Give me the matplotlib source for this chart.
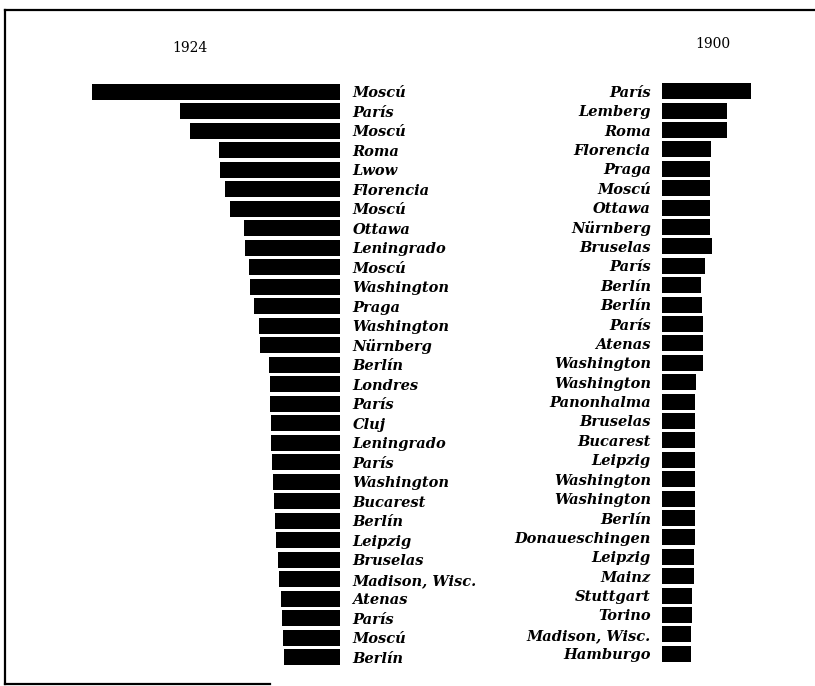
import matplotlib

matplotlib.use("Agg")
import matplotlib.pyplot as plt
from matplotlib.lines import Line2D

# 1924 – Städte und Balkenlängen (geschätzt aus dem Bild)
cities_1924 = [
    "Moscú", "París", "Moscú", "Roma", "Lwow", "Florencia", "Moscú", "Ottawa",
    "Leningrado", "Moscú", "Washington", "Praga", "Washington", "Nürnberg",
    "Berlín", "Londres", "París", "Cluj", "Leningrado", "París", "Washington",
    "Bucarest", "Berlín", "Leipzig", "Bruselas", "Madison, Wisc.", "Atenas",
    "París", "Moscú", "Berlín",
]
values_1924 = [
    248, 160, 150, 121, 120, 115, 110, 96, 95, 91, 90, 86, 81, 80, 71, 70.5,
    70, 69.5, 69, 68, 67.5, 66.5, 65.5, 64, 62.5, 61.5, 59.5, 58.5, 57.5, 56,
]

# 1900
cities_1900 = [
    "París", "Lemberg", "Roma", "Florencia", "Praga", "Moscú", "Ottawa",
    "Nürnberg", "Bruselas", "París", "Berlín", "Berlín", "París", "Atenas",
    "Washington", "Washington", "Panonhalma", "Bruselas", "Bucarest", "Leipzig",
    "Washington", "Washington", "Berlín", "Donaueschingen", "Leipzig", "Mainz",
    "Stuttgart", "Torino", "Madison, Wisc.", "Hamburgo",
]
values_1900 = [
    89, 65, 65, 49, 48, 48, 48, 48, 49.5, 43, 39, 40, 40.5, 40.5, 40.5, 33.5,
    32.5, 32.5, 32.5, 33, 32.5, 32.5, 32.5, 32.5, 32, 31.5, 30, 29.5, 29, 28.5,
]

W, H = 815, 686
LABEL_FONT = dict(family="DejaVu Serif", style="italic", weight="bold", size=10.5)

fig = plt.figure(figsize=(W / 100, H / 100), dpi=100)
fig.patch.set_facecolor("white")

# linkes Panel: Balken wachsen nach links, Beschriftung rechts
ax_l = fig.add_axes([60 / W, (H - 667) / H, 280 / W, 585 / H])
ax_l.barh(range(len(values_1924)), values_1924, height=0.82, color="black")
ax_l.set_xlim(280, 0)
ax_l.set_ylim(len(values_1924) - 0.5, -0.5)
ax_l.yaxis.tick_right()
ax_l.set_yticks(range(len(cities_1924)))
ax_l.set_yticklabels(cities_1924, **LABEL_FONT)
ax_l.tick_params(axis="y", length=0, pad=9)

# rechtes Panel: Balken wachsen nach rechts, Beschriftung links
ax_r = fig.add_axes([662 / W, (H - 663.5) / H, 138 / W, 582 / H])
ax_r.barh(range(len(values_1900)), values_1900, height=0.82, color="black")
ax_r.set_xlim(0, 138)
ax_r.set_ylim(len(values_1900) - 0.5, -0.5)
ax_r.set_yticks(range(len(cities_1900)))
ax_r.set_yticklabels(cities_1900, **LABEL_FONT)
ax_r.tick_params(axis="y", length=0, pad=8)

for ax in (ax_l, ax_r):
    ax.set_xticks([])
    for spine in ax.spines.values():
        spine.set_visible(False)
    ax.patch.set_alpha(0)

fig.text(190 / W, 1 - 48 / H, "1924", ha="center", va="center",
         family="DejaVu Serif", size=10)
fig.text(713 / W, 1 - 44 / H, "1900", ha="center", va="center",
         family="DejaVu Serif", size=10)

# Rahmen (oben, links, unten teilweise)
for xs, ys in [((5, W), (10, 10)), ((5, 5), (10, 684)), ((5, 270), (684, 684))]:
    fig.add_artist(Line2D([x / W for x in xs], [1 - y / H for y in ys],
                          transform=fig.transFigure, color="black", linewidth=1.6))

fig.savefig("out.png", dpi=100, facecolor=fig.get_facecolor())
